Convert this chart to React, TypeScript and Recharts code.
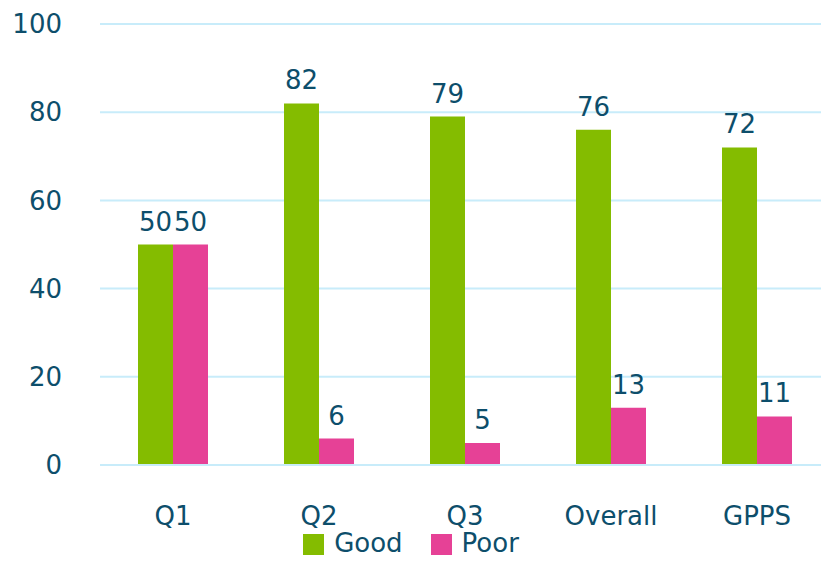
import { BarChart, Bar, XAxis, YAxis, CartesianGrid, Legend, LabelList } from "recharts";

const categories = ["Q1", "Q2", "Q3", "Overall", "GPPS"];
const goodValues = [50, 82, 79, 76, 72];
const poorValues = [50, 6, 5, 13, 11];
const yTicks = [0, 20, 40, 60, 80, 100];

const TEXT = "#0D4E6B";
const FONT = "'DejaVu Sans', sans-serif";

const data = categories.map((name, i) => ({
  name,
  Good: goodValues[i],
  Poor: poorValues[i],
}));

export default function App() {
  return (
    <div style={{ position: "absolute", left: 0, top: 0, width: 821, height: 561, overflow: "hidden", fontFamily: FONT }}>
      <BarChart
        width={830}
        height={561}
        data={data}
        margin={{ top: 24, right: 0, left: 0, bottom: 0 }}
        barGap={0}
        barSize={35}
      >
        <CartesianGrid vertical={false} stroke="#C8ECFA" strokeWidth={2} />
        <XAxis
          dataKey="name"
          axisLine={{ stroke: "#C8ECFA", strokeWidth: 2 }}
          tickLine={false}
          height={60}
          tickMargin={36}
          tick={{ fill: TEXT, fontSize: 26, fontFamily: FONT }}
        />
        <YAxis
          domain={[0, 100]}
          ticks={yTicks}
          width={100}
          axisLine={false}
          tickLine={false}
          tickMargin={32}
          tick={{ fill: TEXT, fontSize: 26, fontFamily: FONT }}
        />
        <Legend
          verticalAlign="bottom"
          iconType="square"
          iconSize={21}
          wrapperStyle={{ left: 20, width: 810, height: 36, lineHeight: "36px", fontSize: 26, fontFamily: FONT }}
          formatter={(value: string) => (
            <span style={{ color: TEXT, marginLeft: 6, marginRight: 18 }}>{value}</span>
          )}
        />
        <Bar dataKey="Good" fill="#84BC00" isAnimationActive={false}>
          <LabelList dataKey="Good" position="top" offset={14} fill={TEXT} fontSize={26} fontFamily={FONT} />
        </Bar>
        <Bar dataKey="Poor" fill="#E64196" isAnimationActive={false}>
          <LabelList dataKey="Poor" position="top" offset={14} fill={TEXT} fontSize={26} fontFamily={FONT} />
        </Bar>
      </BarChart>
    </div>
  );
}
